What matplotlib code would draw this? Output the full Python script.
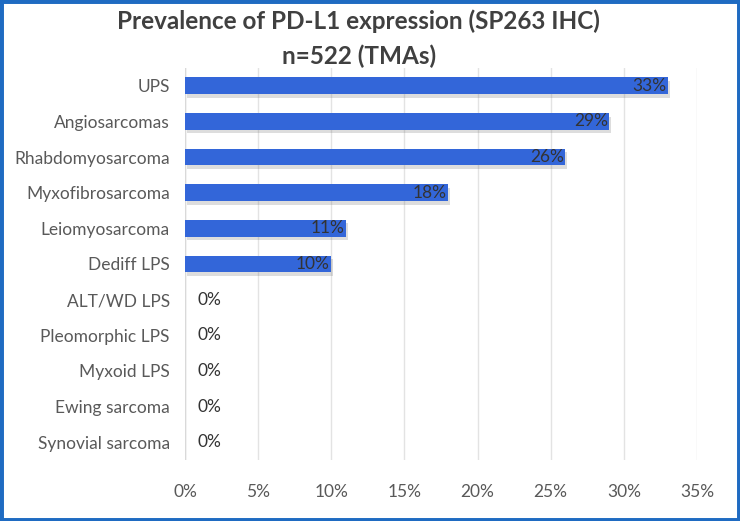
import matplotlib
matplotlib.use("Agg")
import matplotlib.pyplot as plt
import matplotlib.patheffects as pe
from matplotlib.patches import Rectangle

categories = ["UPS", "Angiosarcomas", "Rhabdomyosarcoma", "Myxofibrosarcoma",
              "Leiomyosarcoma", "Dediff LPS", "ALT/WD LPS", "Pleomorphic LPS",
              "Myxoid LPS", "Ewing sarcoma", "Synovial sarcoma"]
values = [33, 29, 26, 18, 11, 10, 0, 0, 0, 0, 0]
xticks = [0, 5, 10, 15, 20, 25, 30, 35]
xticklabels = ["0%", "5%", "10%", "15%", "20%", "25%", "30%", "35%"]
title = "Prevalence of PD-L1 expression (SP263 IHC)\nn=522 (TMAs)"

plt.rcParams['font.family'] = ['Lato', 'DejaVu Sans']

fig = plt.figure(figsize=(7.4, 5.21), dpi=100)
W, H = 740, 521
ax = fig.add_axes([185 / W, 1 - 460 / H, (697 - 185) / W, (460 - 68) / H])

y = list(range(len(categories)))
bars = ax.barh(y, values, height=0.47, color="#3366D9", zorder=3)
for b in bars:
    b.set_path_effects([pe.SimplePatchShadow(offset=(1.5, -2.5), shadow_rgbFace="#666666", alpha=0.22), pe.Normal()])

for yi, v in zip(y, values):
    if v > 0:
        ax.text(v - 0.1, yi, f"{v}%", ha="right", va="center", fontsize=12.5, color="#333333", zorder=4)
    else:
        ax.text(0.85, yi, f"{v}%", ha="left", va="center", fontsize=12.5, color="#333333", zorder=4)

ax.set_xlim(0, 35)
ax.set_ylim(len(categories) - 0.5, -0.5)
ax.set_xticks(xticks)
ax.set_xticklabels(xticklabels)
ax.set_yticks(y)
ax.set_yticklabels(categories)
ax.tick_params(axis="both", length=0, labelsize=12.5, labelcolor="#595959")
ax.tick_params(axis="x", pad=17)
ax.tick_params(axis="y", pad=11)
ax.xaxis.grid(True, color="#E3E3E3", linewidth=1, zorder=0)
ax.set_axisbelow(True)
for s in ax.spines.values():
    s.set_visible(False)
ax.axvline(0, color="#D9D9D9", linewidth=1, zorder=1)

fig.text(0.485, 1 - 39 / H, title, ha="center", va="center", fontsize=17.5, fontweight="bold",
         color="#404040", linespacing=1.6)

fig.patches.append(Rectangle((0, 0), 1, 1, transform=fig.transFigure, fill=False,
                             edgecolor="#1F6BC2", linewidth=5, zorder=10))

fig.savefig("out.png", dpi=100)
